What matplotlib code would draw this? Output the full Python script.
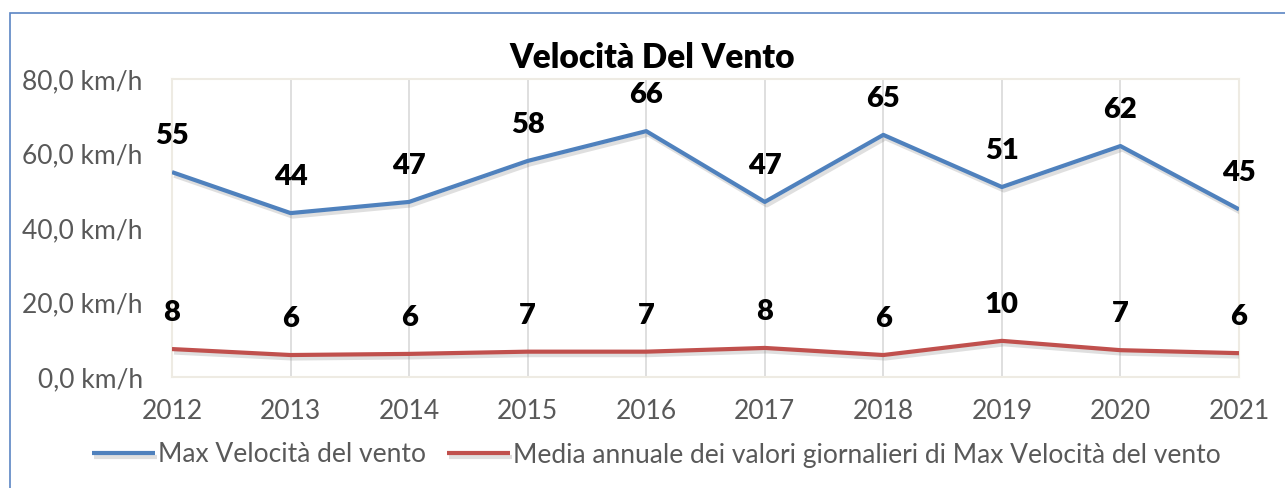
import matplotlib.pyplot as plt
import matplotlib.patheffects as pe
from matplotlib.patches import Rectangle

plt.rcParams['font.family'] = ['Lato', 'DejaVu Sans']

anni = [2012, 2013, 2014, 2015, 2016, 2017, 2018, 2019, 2020, 2021]
max_vel = [55, 44, 47, 58, 66, 47, 65, 51, 62, 45]
media_vel = [7.5, 5.9, 6.2, 6.8, 6.8, 7.8, 5.9, 9.7, 7.2, 6.4]
yticks = [0, 20, 40, 60, 80]

W, H = 1285, 488
fig = plt.figure(figsize=(W / 100, H / 100), dpi=100)

# outer chart border (only left and top visible)
fig.patches.append(Rectangle((10 / W, -0.1), 1.2, (H - 13) / H + 0.1,
                             transform=fig.transFigure, fill=False,
                             edgecolor='#5B85C4', linewidth=1.2))

ax = fig.add_axes([172 / W, (H - 377) / H, (1239 - 172) / W, (377 - 79) / H])

shadow = [pe.SimpleLineShadow(offset=(1.5, -2.5), alpha=0.25, shadow_color='gray'), pe.Normal()]
l1, = ax.plot(anni, max_vel, color='#4F81BD', lw=3, solid_capstyle='butt',
              path_effects=shadow, label='Max Velocità del vento', zorder=3)
l2, = ax.plot(anni, media_vel, color='#C0504D', lw=3, solid_capstyle='butt',
              path_effects=shadow,
              label='Media annuale dei valori giornalieri di Max Velocità del vento', zorder=3)

for x, v in zip(anni, max_vel):
    ax.annotate(f'{v:.0f}', (x, v), xytext=(0, 26), textcoords='offset points',
                ha='center', va='center', fontsize=21, fontweight='heavy', color='black')
for x, v in zip(anni, media_vel):
    ax.annotate(f'{v:.0f}', (x, v), xytext=(0, 26), textcoords='offset points',
                ha='center', va='center', fontsize=21, fontweight='heavy', color='black')

ax.set_xlim(2012, 2021)
ax.set_ylim(0, 80)
ax.set_xticks(anni)
ax.set_xticklabels([str(a) for a in anni])
ax.set_yticks(yticks)
ax.set_yticklabels([f'{t:.1f}'.replace('.', ',') + ' km/h' for t in yticks])
ax.tick_params(length=0, labelsize=19, labelcolor='#595959')
ax.tick_params(axis='y', pad=21)
ax.tick_params(axis='x', pad=16)
ax.grid(axis='x', color='#D9D9D9', lw=1.2)
for s in ax.spines.values():
    s.set_color('#EEEBE3')
    s.set_linewidth(1.5)

fig.text(652 / W, 1 - 58 / H, 'Velocità Del Vento', ha='center', va='center',
         fontsize=24, fontweight='heavy', color='black')

fig.legend(handles=[l1, l2], loc='center', bbox_to_anchor=(656 / W, 1 - 455 / H),
           ncol=2, frameon=False, fontsize=19, handlelength=2.4, handletextpad=0.1,
           columnspacing=0.8, labelcolor='#595959')

fig.savefig('out.png', dpi=100)
